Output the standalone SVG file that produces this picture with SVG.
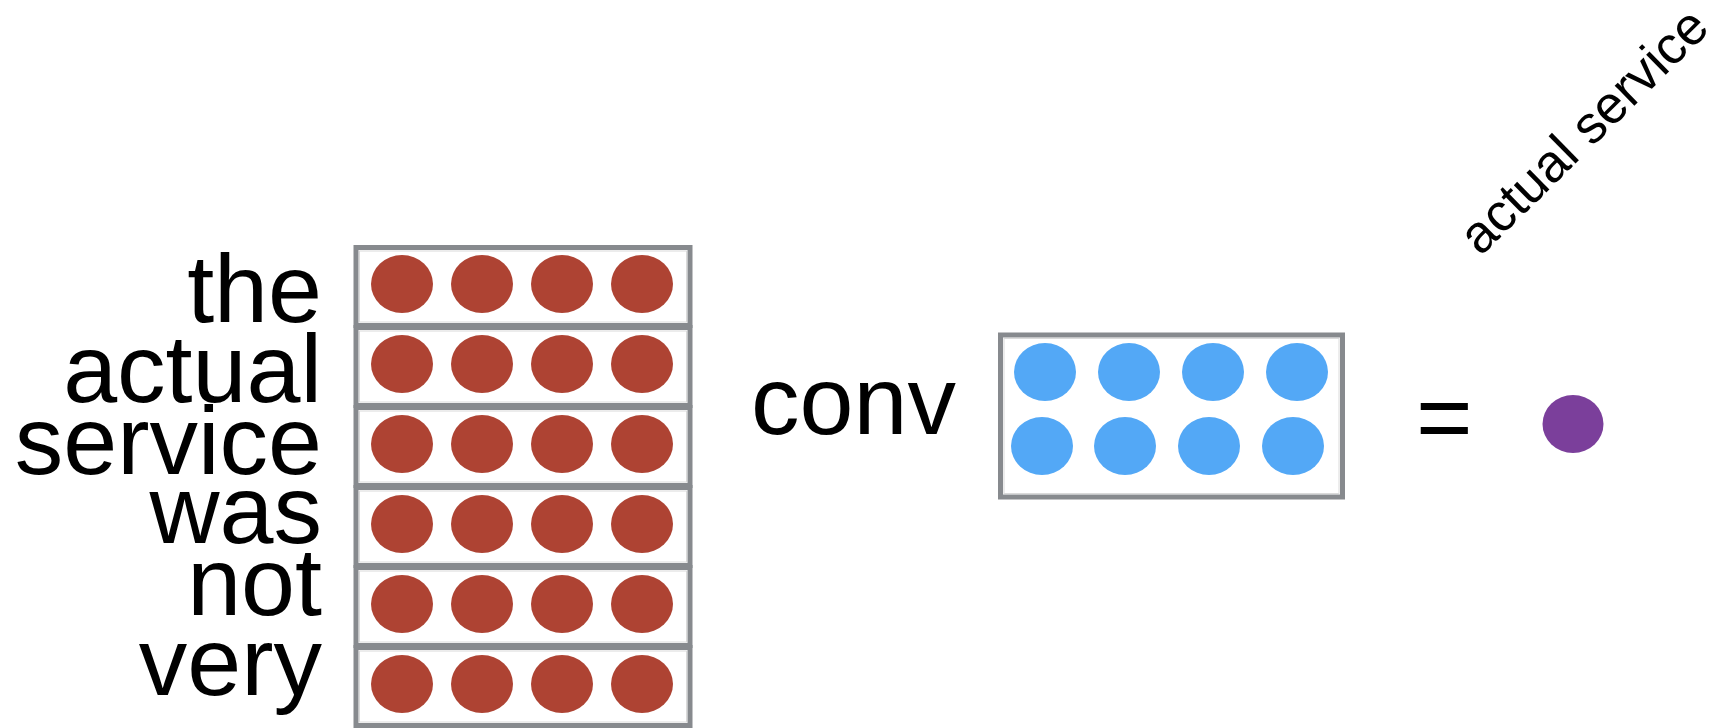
<svg xmlns="http://www.w3.org/2000/svg" width="1722" height="728" viewBox="0 0 1722 728">
<style>
  .lbl{font-family:"Liberation Sans",Arial,sans-serif;font-size:97px;fill:#000}
  .row{fill:#fff;stroke:#878a8e;stroke-width:5}
  .inner{fill:none;stroke:#dadada;stroke-width:1}
  .red{fill:#ae4333}
  .blue{fill:#53a8f6}
</style>
<rect width="1722" height="728" fill="#fff"/>
<g id="labels">
  <text class="lbl" x="322" y="322" text-anchor="end">the</text>
  <text class="lbl" x="322" y="402" text-anchor="end">actual</text>
  <text class="lbl" x="322" y="474" text-anchor="end">service</text>
  <text class="lbl" x="322" y="543" text-anchor="end">was</text>
  <text class="lbl" x="322" y="615" text-anchor="end">not</text>
  <text class="lbl" x="322" y="695" text-anchor="end">very</text>
</g>
<g id="matrix">
  <g id="row1">
    <rect class="row" x="356" y="247.5" width="334" height="78"/>
    <rect class="inner" x="359.5" y="251" width="327" height="71"/>
    <ellipse class="red" cx="402" cy="284" rx="31" ry="29"/><ellipse class="red" cx="482" cy="284" rx="31" ry="29"/><ellipse class="red" cx="562" cy="284" rx="31" ry="29"/><ellipse class="red" cx="642" cy="284" rx="31" ry="29"/>
  </g>
  <g id="row2">
    <rect class="row" x="356" y="327.5" width="334" height="78"/>
    <rect class="inner" x="359.5" y="331" width="327" height="71"/>
    <ellipse class="red" cx="402" cy="364" rx="31" ry="29"/><ellipse class="red" cx="482" cy="364" rx="31" ry="29"/><ellipse class="red" cx="562" cy="364" rx="31" ry="29"/><ellipse class="red" cx="642" cy="364" rx="31" ry="29"/>
  </g>
  <g id="row3">
    <rect class="row" x="356" y="407.5" width="334" height="78"/>
    <rect class="inner" x="359.5" y="411" width="327" height="71"/>
    <ellipse class="red" cx="402" cy="444" rx="31" ry="29"/><ellipse class="red" cx="482" cy="444" rx="31" ry="29"/><ellipse class="red" cx="562" cy="444" rx="31" ry="29"/><ellipse class="red" cx="642" cy="444" rx="31" ry="29"/>
  </g>
  <g id="row4">
    <rect class="row" x="356" y="487.5" width="334" height="78"/>
    <rect class="inner" x="359.5" y="491" width="327" height="71"/>
    <ellipse class="red" cx="402" cy="524" rx="31" ry="29"/><ellipse class="red" cx="482" cy="524" rx="31" ry="29"/><ellipse class="red" cx="562" cy="524" rx="31" ry="29"/><ellipse class="red" cx="642" cy="524" rx="31" ry="29"/>
  </g>
  <g id="row5">
    <rect class="row" x="356" y="567.5" width="334" height="78"/>
    <rect class="inner" x="359.5" y="571" width="327" height="71"/>
    <ellipse class="red" cx="402" cy="604" rx="31" ry="29"/><ellipse class="red" cx="482" cy="604" rx="31" ry="29"/><ellipse class="red" cx="562" cy="604" rx="31" ry="29"/><ellipse class="red" cx="642" cy="604" rx="31" ry="29"/>
  </g>
  <g id="row6">
    <rect class="row" x="356" y="647.5" width="334" height="78"/>
    <rect class="inner" x="359.5" y="651" width="327" height="71"/>
    <ellipse class="red" cx="402" cy="684" rx="31" ry="29"/><ellipse class="red" cx="482" cy="684" rx="31" ry="29"/><ellipse class="red" cx="562" cy="684" rx="31" ry="29"/><ellipse class="red" cx="642" cy="684" rx="31" ry="29"/>
  </g>
</g>
<g id="conv">
  <text class="lbl" x="751" y="434">conv</text>
</g>
<g id="filter">
  <rect class="row" x="1000.5" y="335" width="342" height="162"/>
  <rect class="inner" x="1004" y="338.5" width="335" height="155"/>
  <ellipse class="blue" cx="1045" cy="372" rx="31" ry="29"/><ellipse class="blue" cx="1129" cy="372" rx="31" ry="29"/><ellipse class="blue" cx="1213" cy="372" rx="31" ry="29"/><ellipse class="blue" cx="1297" cy="372" rx="31" ry="29"/>
  <ellipse class="blue" cx="1042" cy="446" rx="31" ry="29"/><ellipse class="blue" cx="1125" cy="446" rx="31" ry="29"/><ellipse class="blue" cx="1209" cy="446" rx="31" ry="29"/><ellipse class="blue" cx="1293" cy="446" rx="31" ry="29"/>
</g>
<g id="equals">
  <text class="lbl" x="1416" y="450" font-size="94">=</text>
</g>
<g id="result">
  <ellipse cx="1573" cy="424" rx="30.5" ry="29" fill="#7b3f9b"/>
  <text x="1480.5" y="257" transform="rotate(-44.5 1480.5 257)" font-family="Liberation Sans, Arial, sans-serif" font-size="53" fill="#000">actual service</text>
</g>
</svg>
